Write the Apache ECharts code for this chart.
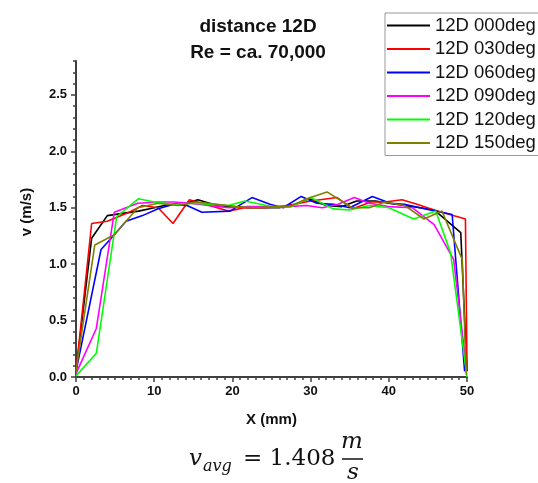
<!DOCTYPE html>
<html>
<head>
<meta charset="utf-8">
<script src="https://cdn.jsdelivr.net/npm/echarts@6/dist/echarts.min.js"></script>
<style>
  html, body { margin: 0; padding: 0; background: #fff; }
  #main { width: 538px; height: 483px; }
</style>
</head>
<body>
<div id="main"></div>
<script>
// x (mm), v (m/s)
const seriesNames = ['12D 000deg', '12D 030deg', '12D 060deg', '12D 090deg', '12D 120deg', '12D 150deg'];
const seriesColors = ['#000000', '#ff0000', '#0000ff', '#ff00ff', '#00ff00', '#808000'];

const deg000 = [[0,0.05],[2,1.23],[4,1.43],[6,1.45],[8,1.47],[10,1.5],[12,1.53],[14,1.54],[15.6,1.57],[18,1.52],[20,1.51],[22,1.5],[24,1.5],[26,1.5],[28,1.53],[29.8,1.58],[32,1.52],[34,1.51],[35.9,1.56],[38.3,1.56],[40,1.54],[42,1.52],[44,1.5],[45.8,1.48],[49.2,1.28],[50,0.05]];
const deg030 = [[0,0.05],[2,1.36],[4,1.38],[6.5,1.45],[8.5,1.52],[10.5,1.5],[12.4,1.36],[14.5,1.57],[16.5,1.53],[19.5,1.47],[21.5,1.5],[24,1.5],[26,1.51],[28,1.53],[30,1.56],[33.4,1.59],[35.4,1.49],[37.7,1.55],[39.5,1.55],[41.7,1.57],[43.6,1.53],[45.8,1.48],[49.8,1.40],[50,0.08]];
const deg060 = [[0,0.05],[3.2,1.13],[4.9,1.26],[6.4,1.38],[8.5,1.43],[10.5,1.49],[12.5,1.53],[14.2,1.52],[16.1,1.46],[19.7,1.47],[22.5,1.59],[24.8,1.53],[26.5,1.5],[28.8,1.6],[30.8,1.54],[33,1.53],[35,1.5],[37.9,1.6],[40.2,1.54],[42,1.53],[44,1.5],[46,1.47],[48.1,1.44],[49.7,0.05]];
const deg090 = [[0,0.03],[2.6,0.43],[4.9,1.46],[7.9,1.54],[10.5,1.55],[12.5,1.55],[14.5,1.54],[17,1.52],[19.5,1.5],[22,1.51],[24.5,1.51],[27,1.51],[29.5,1.52],[31.5,1.5],[33.5,1.53],[35.6,1.59],[37.5,1.54],[40,1.51],[43,1.5],[45.8,1.35],[48.3,1.04],[49.8,0.15]];
const deg120 = [[0,0.01],[2.6,0.21],[5.2,1.42],[8,1.58],[10,1.55],[12.5,1.53],[15,1.54],[17.5,1.53],[19.5,1.52],[21.6,1.56],[25,1.51],[27.5,1.51],[30,1.59],[32.9,1.49],[35,1.48],[37.5,1.52],[40,1.5],[43.2,1.40],[46,1.47],[47.9,1.10],[50,0.0]];
const deg150 = [[0,0.05],[2.4,1.17],[4.9,1.26],[7.9,1.5],[10.5,1.54],[13,1.52],[15.5,1.55],[18,1.53],[20.5,1.51],[23,1.5],[25.5,1.51],[27.4,1.51],[29.5,1.58],[32.1,1.64],[35.3,1.5],[37.5,1.5],[39.5,1.55],[42,1.52],[44.5,1.40],[46.8,1.47],[49.4,1.04],[49.9,0.02]];
const allData = [deg000, deg030, deg060, deg090, deg120, deg150];

const titleLines = ['distance 12D', 'Re = ca. 70,000'];
const xName = 'X (mm)';
const yName = 'v (m/s)';

const font = 'Arial, "Liberation Sans", sans-serif';
const serif = '"DejaVu Serif", serif';
const axisGray = '#404040';

const chart = echarts.init(document.getElementById('main'), null, { renderer: 'canvas' });

chart.setOption({
  animation: false,
  backgroundColor: '#fff',
  title: {
    text: titleLines.join('\n'),
    left: 258,
    top: 14,
    padding: 0,
    textAlign: 'center',
    textStyle: { fontFamily: font, fontSize: 19, fontWeight: 'bold', lineHeight: 26, color: '#111' }
  },
  legend: {
    orient: 'vertical',
    left: 385,
    top: 13,
    padding: [3, 60, 3, 2],  // box runs past the right edge like the original
    itemWidth: 43,
    itemHeight: 2,
    itemGap: 4.5,
    icon: 'rect',
    borderColor: '#999',
    borderWidth: 1,
    data: seriesNames,
    textStyle: { fontFamily: font, fontSize: 18.5, lineHeight: 18, color: '#111' }
  },
  grid: { left: 76, right: 71, top: 61, bottom: 106, outerBoundsMode: 'none' },
  xAxis: {
    type: 'value',
    min: 0, max: 50, interval: 10,
    name: xName,
    nameLocation: 'middle',
    nameGap: 35,
    nameTextStyle: { fontFamily: font, fontSize: 15, fontWeight: 'bold', color: '#111' },
    axisLine: { lineStyle: { color: axisGray, width: 2 } },
    axisTick: { length: 5, lineStyle: { color: axisGray, width: 1.5 } },
    minorTick: { show: true, splitNumber: 10, length: 3, lineStyle: { color: axisGray, width: 1.5 } },
    axisLabel: { fontFamily: font, fontSize: 13, fontWeight: 'bold', color: '#111', margin: 8 },
    splitLine: { show: false }
  },
  yAxis: [
    {
      type: 'value',
      min: 0, max: 2.8, interval: 0.5,
      name: yName,
      nameLocation: 'middle',
      nameGap: 42,
      nameTextStyle: { fontFamily: font, fontSize: 15, fontWeight: 'bold', color: '#111', padding: [0, 0, 0, 14] },
      axisLine: { show: true, lineStyle: { color: axisGray, width: 2 } },
      axisTick: { length: 5, lineStyle: { color: axisGray, width: 1.5 } },
      axisLabel: {
        fontFamily: font, fontSize: 13, fontWeight: 'bold', color: '#111', margin: 9,
        showMaxLabel: false,
        formatter: v => v.toFixed(1)
      },
      splitLine: { show: false }
    },
    {
      // minor ticks every 0.1
      type: 'value',
      position: 'left',
      offset: 0,
      min: 0, max: 2.8, interval: 0.1,
      axisLine: { show: false },
      axisTick: { length: 3, lineStyle: { color: axisGray, width: 1.5 } },
      axisLabel: { show: false },
      splitLine: { show: false }
    }
  ],
  series: allData.map((d, i) => ({
    name: seriesNames[i],
    type: 'line',
    data: d,
    symbol: 'none',
    color: seriesColors[i],
    lineStyle: { width: 1.6, color: seriesColors[i] }
  })),
  graphic: [
    { type: 'text', x: 189, y: 459, style: { text: 'v', font: 'italic 23px ' + serif, fill: '#111', verticalAlign: 'middle' } },
    { type: 'text', x: 203, y: 467, style: { text: 'avg', font: 'italic 16px ' + serif, fill: '#111', verticalAlign: 'middle' } },
    { type: 'text', x: 243, y: 459, style: { text: '= 1.408', font: '23px ' + serif, fill: '#111', verticalAlign: 'middle' } },
    { type: 'text', x: 352, y: 442, style: { text: 'm', font: 'italic 23px ' + serif, fill: '#111', align: 'center', verticalAlign: 'middle' } },
    { type: 'line', shape: { x1: 342, y1: 459, x2: 363, y2: 459 }, style: { stroke: '#111', lineWidth: 1.5 } },
    { type: 'text', x: 353, y: 473, style: { text: 's', font: 'italic 23px ' + serif, fill: '#111', align: 'center', verticalAlign: 'middle' } }
  ]
});
</script>
</body>
</html>
